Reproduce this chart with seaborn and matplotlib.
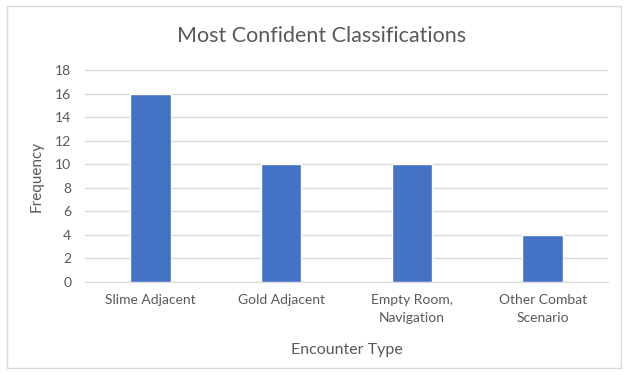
import matplotlib
matplotlib.use("Agg")
import matplotlib.pyplot as plt
import pandas as pd
import seaborn as sns
from matplotlib.patches import Rectangle

# values
categories = ["Slime Adjacent", "Gold Adjacent", "Empty Room,\nNavigation", "Other Combat\nScenario"]
frequency = [16, 10, 10, 4]
yticks = [0, 2, 4, 6, 8, 10, 12, 14, 16, 18]

df = pd.DataFrame({"Encounter Type": categories, "Frequency": frequency})

sns.set_style("white")
plt.rcParams['font.family'] = ['Lato', 'DejaVu Sans']

grey = '#595959'
fig = plt.figure(figsize=(6.3, 3.75), dpi=100)
ax = fig.add_axes([0.135, 0.248, 0.83, 0.565])

sns.barplot(data=df, x="Encounter Type", y="Frequency", color='#4472C4',
            width=0.31, saturation=1, ax=ax, zorder=3)

ax.set_ylim(0, 18)
ax.set_xlim(-0.5, 3.5)
ax.set_yticks(yticks)
ax.yaxis.grid(True, color='#D9D9D9', linewidth=1, zorder=0)
ax.set_axisbelow(True)
for s in ['top', 'right', 'left']:
    ax.spines[s].set_visible(False)
ax.spines['bottom'].set_color('#D9D9D9')
ax.tick_params(axis='both', length=0, colors=grey, labelsize=10)
ax.tick_params(axis='x', pad=9)
ax.tick_params(axis='y', pad=10)
for lab in ax.get_xticklabels():
    lab.set_linespacing(1.5)

ax.set_xlabel("Encounter Type", color=grey, fontsize=11.5, labelpad=14)
ax.set_ylabel("Frequency", color=grey, fontsize=11, labelpad=8)
fig.text(0.51, 0.905, "Most Confident Classifications", color=grey, fontsize=15.5,
         ha='center', va='center')

# chart border
fig.patches.append(Rectangle((0.011, 0.02), 0.974, 0.965, transform=fig.transFigure,
                             fill=False, edgecolor='#D9D9D9', linewidth=1))

fig.savefig("out.png", dpi=100)
